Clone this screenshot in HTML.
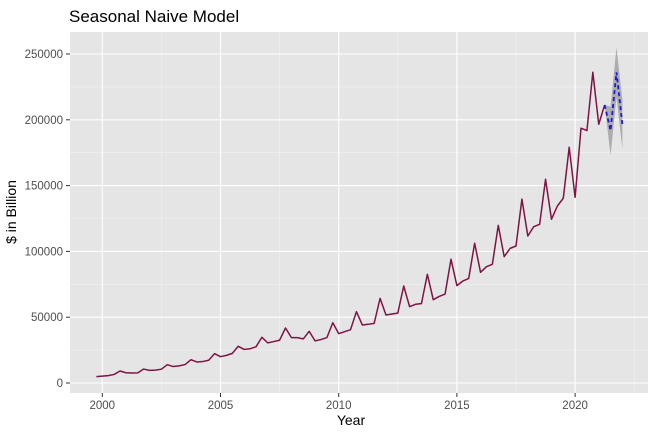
<!DOCTYPE html>
<html><head><meta charset="utf-8"><style>
body{margin:0;background:#fff;}
svg text{font-family:"Liberation Sans",Arial,sans-serif;}
</style></head><body>
<svg id="chart" width="655" height="435" xmlns="http://www.w3.org/2000/svg">
<text x="69" y="22" font-size="17" fill="#000">Seasonal Naive Model</text>
<rect x="70" y="32" width="578" height="361" fill="#e5e5e5"/>
<g id="grid"></g>
<g id="band"></g>
<g id="series"></g>
<g id="axes"></g>
<text x="351" y="425" font-size="14" text-anchor="middle" fill="#000">Year</text>
<text transform="translate(16,212) rotate(-90)" font-size="14" text-anchor="middle" fill="#000">$ in Billion</text>
</svg>
<script>
const startYear = 1999.75;
const actual = [4800,
5200,5600,6500,9100,
7800,7600,7700,10600,
9600,9800,10500,13900,
12500,13000,14000,17700,
16000,16300,17300,22300,
20000,21000,22500,27900,
25500,26000,27500,34700,
30500,31500,32500,41800,
34500,34500,33500,39300,
32000,33000,34500,45800,
37500,39000,40500,54200,
44100,44600,45300,64300,
51700,52400,53100,73700,
58000,59800,60300,82600,
63300,65800,67600,94000,
74000,77500,79500,106200,
84100,88400,90200,119800,
96000,102300,104100,139700,
111700,118800,120600,154800,
124400,134500,140400,179100,
141100,193600,191800,236100,
196600,211300];
const fcStart = 2021.25;
const forecast = [211300,191800,236100,196600];
const fcLower = [211300,173000,217000,178000];
const fcUpper = [211300,210000,255000,215000];
const xTicks = [2000,2005,2010,2015,2020];
const yTicks = [0,50000,100000,150000,200000,250000];
const yTickLabels = ["0","50000","100000","150000","200000","250000"];

const NS="http://www.w3.org/2000/svg";
const X = t => 102.3 + (t-2000)*23.64;
const Y = v => 383 - v*(329/250000);
function mk(tag, attrs, parent){const e=document.createElementNS(NS,tag);for(const k in attrs)e.setAttribute(k,attrs[k]);document.getElementById(parent).appendChild(e);return e;}

for(let i=0;i<yTicks.length-1;i++){const m=(yTicks[i]+yTicks[i+1])/2;
 const g=mk('line',{x1:70,x2:648,y1:Y(m),y2:Y(m),stroke:'#f2f2f2','stroke-width':0.6},'grid');
 
 }
for(let i=0;i<xTicks.length;i++){const m=xTicks[i]+2.5;
 const g=mk('line',{x1:X(m),x2:X(m),y1:32,y2:393,stroke:'#f2f2f2','stroke-width':0.6},'grid');
 
 }
yTicks.forEach((v,i)=>{
 const g=mk('line',{x1:70,x2:648,y1:Y(v),y2:Y(v),stroke:'#fff','stroke-width':1.1},'grid');
 
 
 const t=mk('line',{x1:66,x2:70,y1:Y(v),y2:Y(v),stroke:'#333','stroke-width':1},'axes');
 
 
 const l=mk('text',{x:63,y:Y(v)+4,'font-size':11.5,'text-anchor':'end',fill:'#4d4d4d'},'axes');
 l.textContent=yTickLabels[i];
 
 
});
xTicks.forEach(v=>{
 const g=mk('line',{x1:X(v),x2:X(v),y1:32,y2:393,stroke:'#fff','stroke-width':1.1},'grid');
 
 
 const t=mk('line',{x1:X(v),x2:X(v),y1:393,y2:397,stroke:'#333','stroke-width':1},'axes');
 
 
 const l=mk('text',{x:X(v),y:409,'font-size':11.5,'text-anchor':'middle',fill:'#4d4d4d'},'axes');
 l.textContent=String(v);
 
 
});
let up=fcUpper.map((v,i)=>X(fcStart+i*0.25)+','+Y(v));
let lo=fcLower.map((v,i)=>X(fcStart+i*0.25)+','+Y(v)).reverse();
const b=mk('polygon',{points:up.concat(lo).join(' '),fill:'#999','fill-opacity':0.75},'band');


const a=mk('polyline',{points:actual.map((v,i)=>X(startYear+i*0.25)+','+Y(v)).join(' '),fill:'none',stroke:'#7f1345','stroke-width':1.5,'stroke-linejoin':'round'},'series');


const f=mk('polyline',{points:forecast.map((v,i)=>X(fcStart+i*0.25)+','+Y(v)).join(' '),fill:'none',stroke:'#1a1adb','stroke-width':1.8,'stroke-dasharray':'4,3'},'series');


</script>
</body></html>
